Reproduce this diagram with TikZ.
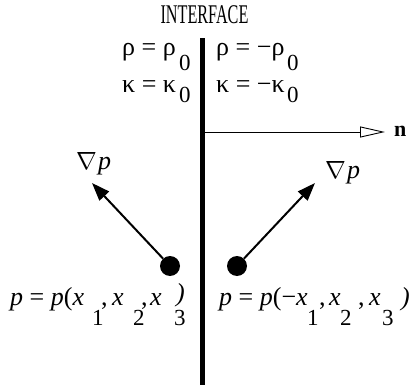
\documentclass[tikz,border=0pt]{standalone}
\usepackage{fontspec}
\setmainfont{Liberation Serif}
\usetikzlibrary{arrows.meta}
\tikzset{
  txt/.style={inner sep=0pt, anchor=base west, font=\fontsize{26}{30}\selectfont},
  big/.style={inner sep=0pt, anchor=base west, font=\fontsize{26}{30}\selectfont},
  dig/.style={inner sep=0pt, anchor=base west, font=\fontsize{23}{26}\selectfont},
  grad/.style={line width=2pt, -{Triangle[length=18pt,width=13pt]}},
  dot/.style={circle, fill=black, inner sep=0pt, minimum size=20pt},
}
\begin{document}
\begin{tikzpicture}[x=1pt,y=-1pt]
\useasboundingbox (0,0) rectangle (413,388);
% interface
\coordinate (itop) at (202.5,38);
\coordinate (ibot) at (202.5,385);
\draw[line width=5pt] (itop) -- (ibot);
\node[inner sep=0pt, font=\fontsize{27}{30}\selectfont] (title) at (204.5,15) {\scalebox{0.6}[1]{INTERFACE}};
% properties
\node[big] (rl) at (122,55) {ρ = ρ};
\node[dig] (rl0) at (179,70) {0};
\node[big] (kl) at (122,92) {κ = κ};
\node[dig] (kl0) at (179,102) {0};
\node[big] (rr) at (216,55) {ρ = −ρ};
\node[dig] (rr0) at (287,70) {0};
\node[big] (kr) at (216,92) {κ = −κ};
\node[dig] (kr0) at (287,102) {0};
% normal
\coordinate (nstart) at (205,132);
\coordinate (ntip) at (385,132);
\node[inner sep=0pt, anchor=base west, font=\fontsize{22}{24}\selectfont\bfseries] (n) at (394,136) {n};
\draw[line width=0.9pt, -{Triangle[open,length=25pt,width=11pt]}] (nstart) -- (ntip);
% points and gradients
\node[dot] (pl) at (170,266) {};
\node[dot] (pr) at (237,266) {};
\coordinate (gltip) at (92,183);
\coordinate (grtip) at (315,183);
\node[txt] (gl) at (76,169) {$\nabla$\hspace{0.05em}\textit{p}};
\node[txt] (gr) at (325,178) {$\nabla$\hspace{0.05em}\textit{p}};
\draw[grad] (pl) -- (gltip);
\draw[grad] (pr) -- (grtip);
% left label
\node[txt] (la) at (10,305) {\textit{p} = \textit{p}(\textit{x}};
\node[dig] (l1) at (92,325) {1};
\node[txt] (lc1) at (101,305) {,};
\node[txt] (lx2) at (112,305) {\textit{x}};
\node[dig] (l2) at (133,325) {2};
\node[txt] (lc2) at (141,305) {,};
\node[txt] (lx3) at (150,305) {\textit{x}};
\node[dig] (l3) at (174,325) {3};
\node[txt] (lp) at (176,301) {\textit{)}};
% right label
\node[txt] (ra) at (219,305) {\textit{p} = \textit{p}(−\textit{x}};
\node[dig] (r1) at (307,325) {1};
\node[txt] (rc1) at (319,305) {,};
\node[txt] (rx2) at (329,305) {\textit{x}};
\node[dig] (r2) at (340,325) {2};
\node[txt] (rc2) at (358,305) {,};
\node[txt] (rx3) at (369,305) {\textit{x}};
\node[dig] (r3) at (382,325) {3};
\node[txt] (rp) at (401,305) {\textit{)}};
\end{tikzpicture}
\end{document}
